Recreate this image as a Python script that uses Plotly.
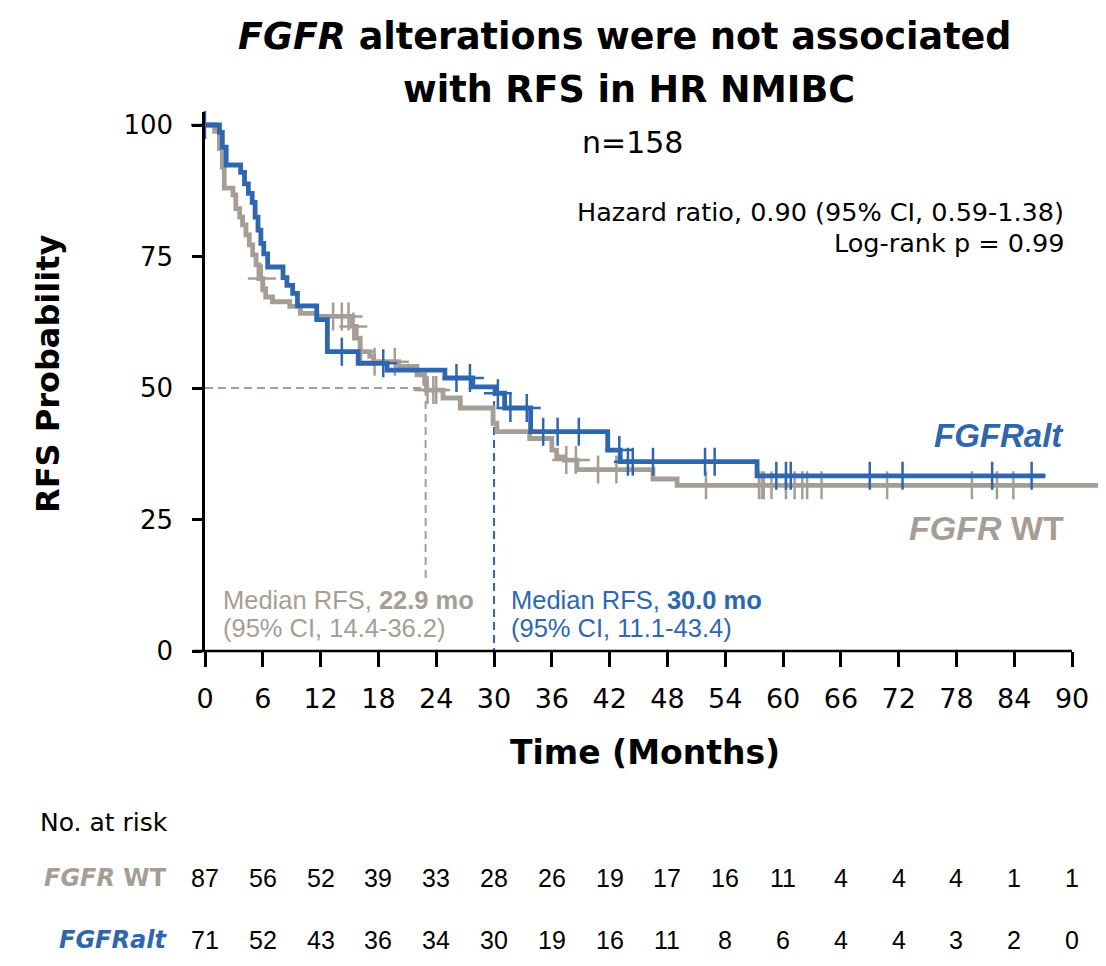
import plotly.graph_objects as go

# ---------------- data ----------------
x_ticks = list(range(0, 91, 6))
y_ticks = [0, 25, 50, 75, 100]

# FGFR WT (grey) Kaplan-Meier steps
wt_time = [0, 1.0, 1.5, 1.8, 2.0, 2.9, 3.2, 3.6, 3.9, 4.25, 4.6, 4.95, 5.3, 5.6, 6.0, 6.3,
           7.0, 8.8, 9.9, 11.6, 15.3, 15.7, 16.1, 17.1, 17.5, 20.1, 22.0, 22.8, 23.0,
           24.7, 26.5, 29.9, 30.3, 33.7, 36.0, 36.5, 37.3, 38.6, 46.5, 49.0, 92.7]
wt_surv = [100, 98.8, 95.5, 92.0, 88.0, 86.7, 84.1, 82.5, 81.0, 79.1, 77.2, 75.3, 73.4, 70.8, 68.9, 67.3,
           66.4, 65.5, 64.2, 63.6, 61.7, 59.5, 56.9, 56.0, 55.0, 54.1, 52.5, 50.9, 49.6,
           48.1, 46.2, 43.3, 41.7, 40.4, 38.2, 36.9, 36.3, 34.5, 32.7, 31.5, 31.5]
wt_censor = [5.9, 13.3, 14.2, 14.9, 15.4, 16.2, 17.6, 19.7, 23.1, 23.7, 24.0, 37.5, 38.5,
             40.8, 42.7, 52.0, 57.5, 57.8, 58.0, 58.8, 60.3, 61.2, 62.0, 62.5, 64.0,
             70.8, 79.6, 82.2, 83.9]

# FGFRalt (blue) Kaplan-Meier steps
alt_time = [0, 1.5, 1.8, 2.2, 3.7, 4.1, 4.5, 4.9, 5.2, 5.5, 5.8, 6.1, 6.5, 8.1, 8.5, 9.1, 9.6,
            11.6, 12.7, 15.9, 18.9, 24.9, 27.8, 30.1, 31.1, 33.8, 41.8, 43.1, 57.3, 87.2]
alt_surv = [100, 98.6, 95.8, 92.4, 91.0, 88.8, 87.0, 85.3, 82.5, 80.0, 77.5, 75.5, 73.0, 71.0, 69.5, 68.0, 65.6,
            63.0, 56.9, 54.7, 53.4, 51.9, 50.2, 49.0, 46.2, 41.7, 38.2, 36.0, 33.3, 33.3]
alt_censor = [0, 14.2, 18.5, 26.1, 27.5, 30.4, 31.7, 33.4, 35.1, 36.6, 38.8, 43.0, 43.9, 44.4,
              46.5, 51.9, 52.9, 59.3, 60.3, 60.8, 69.0, 72.4, 81.7, 85.8]

risk_wt = [87, 56, 52, 39, 33, 28, 26, 19, 17, 16, 11, 4, 4, 4, 1, 1]
risk_alt = [71, 52, 43, 36, 34, 30, 19, 16, 11, 8, 6, 4, 4, 3, 2, 0]

median_wt = 22.9
median_alt = 30.0

# ---------------- style ----------------
BLUE = '#2F66B0'
GRAY = '#A59E97'
FIG_W, FIG_H = 1106, 966
L, R, T, B = 205, 1101, 112, 651
SANS = 'Liberation Sans'
WIDE = 'DejaVu Sans'


def px(x):
    return (x - L) / (R - L)


def py(y):
    return (B - y) / (B - T)


def step_at(times, survs, t):
    val = survs[0]
    for ti, si in zip(times, survs):
        if ti <= t:
            val = si
    return val


fig = go.Figure()

# median guide lines
fig.add_shape(type='line', x0=0, x1=median_wt, y0=50, y1=50, xref='x', yref='y',
              line=dict(color=GRAY, width=2, dash='8px,5px'), layer='below')
fig.add_shape(type='line', x0=median_wt, x1=median_wt, y0=50, y1=13.5, xref='x', yref='y',
              line=dict(color=GRAY, width=2, dash='8px,5px'), layer='below')
fig.add_shape(type='line', x0=median_alt, x1=median_alt, y0=50, y1=0, xref='x', yref='y',
              line=dict(color=BLUE, width=2, dash='8px,5px'), layer='below')

# curves
fig.add_trace(go.Scatter(x=wt_time, y=wt_surv, mode='lines', line=dict(color=GRAY, width=4.8, shape='hv'),
                         hoverinfo='skip', showlegend=False, cliponaxis=False))
fig.add_trace(go.Scatter(x=wt_censor, y=[step_at(wt_time, wt_surv, t) for t in wt_censor], mode='markers',
                         marker=dict(symbol='cross-thin', size=20, line=dict(color=GRAY, width=2.5)),
                         hoverinfo='skip', showlegend=False, cliponaxis=False))
fig.add_trace(go.Scatter(x=alt_time, y=alt_surv, mode='lines', line=dict(color=BLUE, width=4.8, shape='hv'),
                         hoverinfo='skip', showlegend=False, cliponaxis=False))
fig.add_trace(go.Scatter(x=alt_censor, y=[step_at(alt_time, alt_surv, t) for t in alt_censor], mode='markers',
                         marker=dict(symbol='cross-thin', size=20, line=dict(color=BLUE, width=2.5)),
                         hoverinfo='skip', showlegend=False, cliponaxis=False))

# x axis line (extends slightly left of the y axis)
fig.add_shape(type='line', xref='paper', yref='paper', x0=px(193), x1=px(1072), y0=0, y1=0,
              line=dict(color='black', width=2.5))

ann = []


def add(text, x, y, size, color='black', xanchor='center', yanchor='middle', family=SANS, xref='paper', **kw):
    ann.append(dict(text=text, x=x, y=y, xref=xref, yref='paper', showarrow=False,
                    xanchor=xanchor, yanchor=yanchor, font=dict(size=size, color=color, family=family), **kw))


# title
add('<b><i>FGFR</i> alterations were not associated</b>', px(625), py(37), 36.5, family=WIDE)
add('<b>with RFS in HR NMIBC</b>', px(629), py(90), 36.5, family=WIDE)
add('n=158', px(632), py(142), 30, family=WIDE)

# stats
add('Hazard ratio, 0.90 (95% CI, 0.59-1.38)', px(1066), py(212), 25.5, xanchor='right', family=WIDE)
add('Log-rank p = 0.99', px(1066), py(243), 25.5, xanchor='right', family=WIDE)

# curve labels
add('<b><i>FGFRalt</i></b>', px(1066), py(435), 33, color=BLUE, xanchor='right')
add('<b><i>FGFR</i> WT</b>', px(1066), py(528), 34, color=GRAY, xanchor='right')

# median annotations
add('Median RFS, <b>%.1f mo</b>' % median_wt, px(221), py(600), 25.5, color=GRAY, xanchor='left')
add('(95% CI, 14.4-36.2)', px(221), py(628), 25.5, color=GRAY, xanchor='left')
add('Median RFS, <b>%.1f mo</b>' % median_alt, px(509), py(600), 25.5, color=BLUE, xanchor='left')
add('(95% CI, 11.1-43.4)', px(509), py(628), 25.5, color=BLUE, xanchor='left')

# axis titles
add('<b>RFS Probability</b>', px(48), py(374), 32, textangle=-90, family=WIDE)
add('<b>Time (Months)</b>', px(645), py(752), 33, family=WIDE)

# risk table
add('No. at risk', px(38), py(822), 25, xanchor='left', family=WIDE)
add('<b><i>FGFR</i> WT</b>', px(169), py(878), 24, color=GRAY, xanchor='right', family=WIDE)
add('<b><i>FGFRalt</i></b>', px(169), py(940), 24, color=BLUE, xanchor='right', family=WIDE)
for t, n in zip(x_ticks, risk_wt):
    add(str(n), t, py(878), 25, xref='x')
for t, n in zip(x_ticks, risk_alt):
    add(str(n), t, py(940), 25, xref='x')

fig.update_layout(
    width=FIG_W, height=FIG_H,
    margin=dict(l=L, r=FIG_W - R, t=T, b=FIG_H - B, pad=0),
    paper_bgcolor='white', plot_bgcolor='white',
    annotations=ann,
    xaxis=dict(range=[0, 93], tickvals=x_ticks, ticktext=[str(v) for v in x_ticks],
               ticks='outside', ticklen=15, tickwidth=2.5, tickcolor='black',
               showline=False, showgrid=False, zeroline=False, ticklabelstandoff=9,
               tickfont=dict(family=WIDE, size=27, color='black')),
    yaxis=dict(range=[0, (B - T) / 5.26], tickvals=y_ticks, ticktext=[str(v) for v in y_ticks],
               ticks='outside', ticklen=10, tickwidth=2.5, tickcolor='black',
               showline=True, linewidth=2.5, linecolor='black',
               showgrid=False, zeroline=False, ticklabelstandoff=14,
               tickfont=dict(family=WIDE, size=26, color='black')),
)

fig.write_html('out.html')
